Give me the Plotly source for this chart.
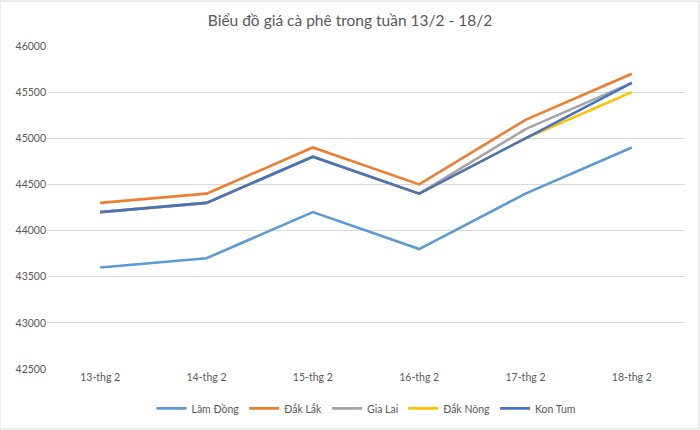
import plotly.graph_objects as go

categories = ["13-thg 2", "14-thg 2", "15-thg 2", "16-thg 2", "17-thg 2", "18-thg 2"]
lam_dong = [43600, 43700, 44200, 43800, 44400, 44900]
dak_lak = [44300, 44400, 44900, 44500, 45200, 45700]
gia_lai = [44200, 44300, 44800, 44400, 45100, 45600]
dak_nong = [44200, 44300, 44800, 44400, 45000, 45500]
kon_tum = [44200, 44300, 44800, 44400, 45000, 45600]

series = [
    ("Lâm Đồng", lam_dong, "#5B9BD5"),
    ("Đắk Lắk", dak_lak, "#ED7D31"),
    ("Gia Lai", gia_lai, "#A5A5A5"),
    ("Đắk Nông", dak_nong, "#FFC000"),
    ("Kon Tum", kon_tum, "#4472C4"),
]

fig = go.Figure()
for name, vals, color in series:
    fig.add_trace(go.Scatter(x=categories, y=vals, name=name, mode="lines",
                             line=dict(color=color, width=2.6)))

font_family = "Lato, Carlito, 'Open Sans', sans-serif"
fig.update_layout(
    width=700, height=430,
    margin=dict(l=47, r=15, t=46, b=61, autoexpand=False),
    paper_bgcolor="white", plot_bgcolor="white",
    font=dict(family=font_family, color="#595959", size=10),
    title=dict(text="Biểu đồ giá cà phê trong tuần 13/2 - 18/2",
               x=0.5, xanchor="center", y=0.952, yanchor="middle",
               font=dict(size=15.5, color="#595959", family=font_family)),
    xaxis=dict(type="category", range=[-0.5, 5.5], showgrid=False,
               showline=False, ticks="", tickfont=dict(size=10.5, color="#595959")),
    yaxis=dict(range=[42500, 46000], dtick=500, showgrid=True, gridcolor="#D9D9D9",
               gridwidth=1, zeroline=False, showline=False, ticks="",
               tickformat="d", tickfont=dict(size=10.5, color="#595959")),
    legend=dict(orientation="h", x=0.5, xanchor="center", y=-0.122, yanchor="middle",
                font=dict(size=10.5, color="#595959"), itemwidth=30, traceorder="normal"),
    showlegend=True,
)
fig.add_shape(type="rect", xref="paper", yref="paper", x0=-47/638, x1=1+14/638,
              y0=-60/323, y1=1+45/323, line=dict(color="#D9D9D9", width=1))

fig.write_html("out.html")
